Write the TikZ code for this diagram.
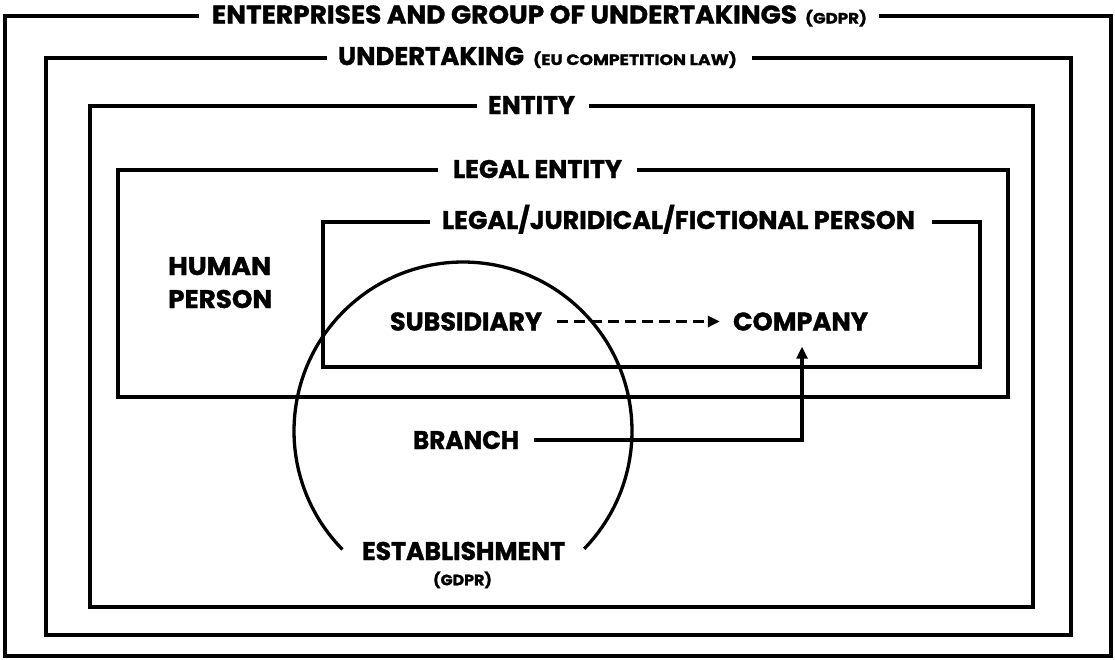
\documentclass[tikz,border=0pt]{standalone}
\usepackage{fontspec}
\setmainfont{Poppins}[BoldFeatures={FakeBold=1.2}]
\usetikzlibrary{arrows.meta}
\newsavebox\fitbox
\newcommand\fitx[2]{\sbox\fitbox{#2}\pgfmathsetmacro\fitratio{#1/\the\wd\fitbox}\scalebox{\fitratio}[1]{\usebox\fitbox}}
\newcommand\lblbig{\fontsize{25.5}{28}\selectfont\bfseries}
\newcommand\lblsmall{\fontsize{15}{16}\selectfont\bfseries}
\begin{document}
\begin{tikzpicture}[x=1pt,y=-1pt,
  frame/.style={line width=3.4pt, line cap=butt, line join=miter},
  lbl/.style={inner sep=0pt, text height=18pt, text depth=0pt, font=\lblbig},
  sml/.style={inner sep=0pt, text height=10.5pt, text depth=0pt, font=\lblsmall},
  conn/.style={line width=3.3pt},
  tip/.style={-{Triangle[length=12pt,width=11pt]}}
]
\useasboundingbox[fill=white] (0,0) rectangle (1115,659);

% frames
\draw[frame] (199,16) -- (5,16) -- (5,656) -- (1111,656) -- (1111,16) -- (879,16);
\draw[frame] (327,58) -- (46,58) -- (46,635) -- (1071,635) -- (1071,58) -- (752,58);
\draw[frame] (477,106) -- (90,106) -- (90,607) -- (1033,607) -- (1033,106) -- (589,106);
\draw[frame] (438,170) -- (118,170) -- (118,397) -- (1008,397) -- (1008,170) -- (637,170);
\draw[frame] (430,222) -- (323,222) -- (323,367) -- (980,367) -- (980,222) -- (932,222);

% circle with gap
\draw[line width=3.3pt] ([shift={(135.5:169)}]463,431) arc[start angle=135.5, end angle=404.2, radius=169];

% titles
\node[lbl] (t1) at (539.5,14.5) {\fitx{585}{ENTERPRISES AND GROUP OF UNDERTAKINGS}\hspace{8pt}\fitx{62}{\lblsmall (GDPR)}};
\node[lbl] (t2) at (537.5,56) {\fitx{186}{UNDERTAKING}\hspace{9pt}\fitx{204}{\lblsmall (EU COMPETITION LAW)}};
\node[lbl] (ent) at (531.5,105) {\fitx{87}{ENTITY}};
\node[lbl] (lent) at (537.5,169) {\fitx{169}{LEGAL ENTITY}};
\node[lbl] (lper) at (678.5,220) {\fitx{473}{LEGAL/JURIDICAL/FICTIONAL PERSON}};

% inner labels
\node[lbl, anchor=west] (hum1) at (168,266) {\fitx{103}{HUMAN}};
\node[lbl, anchor=west] (hum2) at (168,299) {\fitx{104}{PERSON}};
\node[lbl] (sub) at (466,321.5) {\fitx{152}{SUBSIDIARY}};
\node[lbl] (comp) at (800.5,321.5) {\fitx{135}{COMPANY}};
\node[lbl] (br) at (466,440) {\fitx{106}{BRANCH}};
\node[lbl] (est) at (463.5,551) {\fitx{203}{ESTABLISHMENT}};
\node[sml] (gdpr) at (462.5,580) {\fitx{59}{(GDPR)}};

% connectors
\draw[conn, tip, dash pattern=on 11pt off 6pt] ([xshift=15pt]sub.east) -- ([xshift=-13pt]comp.west);
\draw[conn, tip] ([xshift=15pt]br.east) -| ([xshift=1.5pt,yshift=-16pt]comp.south);
\end{tikzpicture}
\end{document}
